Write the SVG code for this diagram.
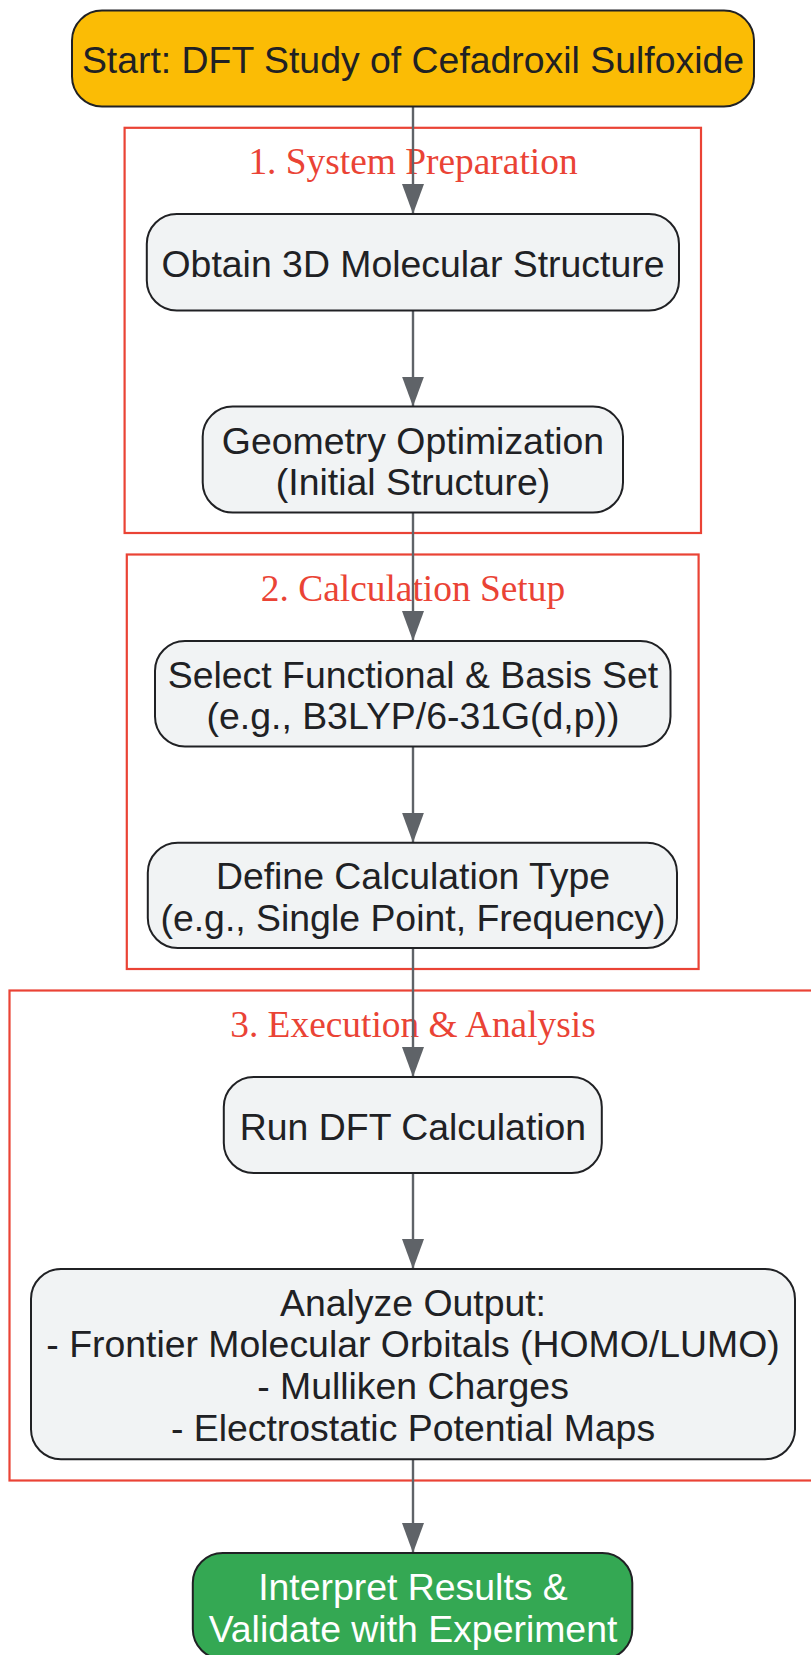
<svg xmlns="http://www.w3.org/2000/svg" width="811" height="1655" viewBox="0 0 811 1655">
<style>
.cluster{fill:none;stroke:#EA4335;stroke-width:2.2}
.clabel{font-family:"Liberation Serif","Times New Roman",serif;font-size:37.4px;fill:#EA4335;text-anchor:middle}
.node{fill:#F1F3F4;stroke:#202124;stroke-width:2}
.ntext{font-family:"Liberation Sans",Arial,sans-serif;font-size:37.4px;fill:#202124;text-anchor:middle}
.edge{stroke:#5F6368;stroke-width:2.4;fill:none}
</style>
<defs>
<marker id="arrow" markerUnits="userSpaceOnUse" viewBox="0 0 30 22" markerWidth="30" markerHeight="22" refX="30" refY="11" orient="auto">
<path d="M0,0 L30,11 L0,22 z" fill="#5F6368"/>
</marker>
</defs>
<rect width="811" height="1655" fill="#FFFFFF"/>
<g id="clusters">
<g id="cluster1">
<rect class="cluster" x="124.6" y="127.8" width="576.4" height="405.2"/>
<text class="clabel" x="413" y="174">1. System Preparation</text>
</g>
<g id="cluster2">
<rect class="cluster" x="126.8" y="554.5" width="571.8" height="414.5"/>
<text class="clabel" x="413" y="600.5">2. Calculation Setup</text>
</g>
<g id="cluster3">
<rect class="cluster" x="9.5" y="990.5" width="807" height="490"/>
<text class="clabel" x="413" y="1036.8">3. Execution &amp; Analysis</text>
</g>
</g>
<g id="connectors">
<line class="edge" x1="413" y1="106.6" x2="413" y2="214" marker-end="url(#arrow)"/>
<line class="edge" x1="413" y1="310.5" x2="413" y2="406.6" marker-end="url(#arrow)"/>
<line class="edge" x1="413" y1="512.5" x2="413" y2="641" marker-end="url(#arrow)"/>
<line class="edge" x1="413" y1="746.6" x2="413" y2="842.7" marker-end="url(#arrow)"/>
<line class="edge" x1="413" y1="948" x2="413" y2="1077" marker-end="url(#arrow)"/>
<line class="edge" x1="413" y1="1173" x2="413" y2="1269" marker-end="url(#arrow)"/>
<line class="edge" x1="413" y1="1459.3" x2="413" y2="1553" marker-end="url(#arrow)"/>
</g>
<g id="start">
<rect x="72" y="10.6" width="682" height="96" rx="30" ry="30" fill="#FBBC05" stroke="#202124" stroke-width="2"/>
<text class="ntext" x="413" y="73.3">Start: DFT Study of Cefadroxil Sulfoxide</text>
</g>
<g id="obtain">
<rect class="node" x="146.8" y="214" width="532.2" height="96.5" rx="30" ry="30"/>
<text class="ntext" x="413" y="276.8">Obtain 3D Molecular Structure</text>
</g>
<g id="geometry">
<rect class="node" x="202.7" y="406.6" width="420.3" height="106" rx="30" ry="30"/>
<text class="ntext" x="413" y="453.5">Geometry Optimization</text>
<text class="ntext" x="413" y="495">(Initial Structure)</text>
</g>
<g id="select">
<rect class="node" x="155" y="641" width="515.5" height="105.6" rx="30" ry="30"/>
<text class="ntext" x="413" y="687.5">Select Functional &amp; Basis Set</text>
<text class="ntext" x="413" y="729">(e.g., B3LYP/6-31G(d,p))</text>
</g>
<g id="define">
<rect class="node" x="147.8" y="842.7" width="529.2" height="105.3" rx="30" ry="30"/>
<text class="ntext" x="413" y="889">Define Calculation Type</text>
<text class="ntext" x="413" y="930.5">(e.g., Single Point, Frequency)</text>
</g>
<g id="run">
<rect class="node" x="223.8" y="1077" width="378" height="96" rx="30" ry="30"/>
<text class="ntext" x="413" y="1139.5">Run DFT Calculation</text>
</g>
<g id="analyze">
<rect class="node" x="31" y="1269" width="764" height="190.3" rx="30" ry="30"/>
<text class="ntext" x="413" y="1315.8">Analyze Output:</text>
<text class="ntext" x="413" y="1357.4">- Frontier Molecular Orbitals (HOMO/LUMO)</text>
<text class="ntext" x="413" y="1399">- Mulliken Charges</text>
<text class="ntext" x="413" y="1440.6">- Electrostatic Potential Maps</text>
</g>
<g id="final">
<rect x="192.8" y="1553" width="439.5" height="106" rx="30" ry="30" fill="#34A853" stroke="#202124" stroke-width="2"/>
<text class="ntext" x="413" y="1600" style="fill:#FFFFFF">Interpret Results &amp;</text>
<text class="ntext" x="413" y="1641.6" style="fill:#FFFFFF">Validate with Experiment</text>
</g>
</svg>
